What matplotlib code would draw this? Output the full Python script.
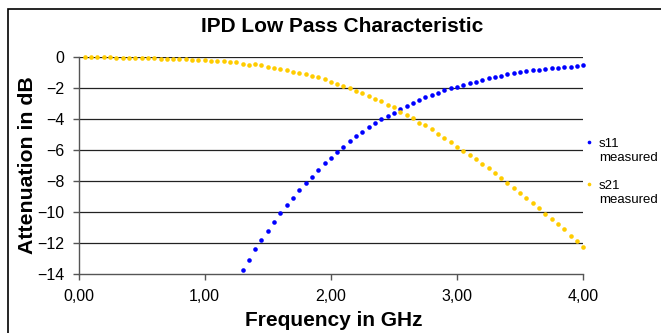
import numpy as np
import matplotlib
matplotlib.use("Agg")
import matplotlib.pyplot as plt
from matplotlib.patches import Rectangle
from matplotlib.ticker import FuncFormatter

plt.rcParams["font.family"] = ["Liberation Sans", "DejaVu Sans"]

# measurement grid in GHz
freq = np.round(np.arange(1, 81) * 0.05, 2)

# s21 over the whole grid (0.05 .. 4.00 GHz)
s21 = [-0.02, -0.02, -0.02, -0.02, -0.02, -0.08, -0.08, -0.08, -0.08, -0.08,
       -0.08, -0.08, -0.15, -0.15, -0.15, -0.15, -0.15, -0.24, -0.24, -0.24,
       -0.30, -0.30, -0.30, -0.37, -0.37, -0.45, -0.52, -0.50, -0.56, -0.65,
       -0.71, -0.77, -0.86, -0.99, -1.05, -1.10, -1.25, -1.33, -1.46, -1.60,
       -1.74, -1.87, -2.00, -2.19, -2.32, -2.54, -2.75, -2.88, -3.08, -3.27,
       -3.55, -3.74, -3.96, -4.24, -4.43, -4.69, -4.95, -5.24, -5.50, -5.79,
       -6.06, -6.32, -6.60, -6.92, -7.20, -7.48, -7.81, -8.15, -8.43, -8.76,
       -9.10, -9.42, -9.77, -10.12, -10.45, -10.80, -11.12, -11.55, -11.87, -12.24]

# s11 only visible from 1.30 GHz on (below -14 dB is off the chart)
s11_freq = freq[25:]
s11 = [-13.75, -13.10, -12.40, -11.80, -11.20, -10.65, -10.10, -9.57, -9.10, -8.62,
       -8.15, -7.72, -7.28, -6.88, -6.50, -6.12, -5.79, -5.44, -5.12, -4.82,
       -4.55, -4.28, -4.02, -3.81, -3.60, -3.40, -3.17, -2.99, -2.80, -2.62,
       -2.47, -2.32, -2.17, -2.03, -1.92, -1.84, -1.72, -1.60, -1.50, -1.38,
       -1.29, -1.22, -1.14, -1.08, -1.01, -0.95, -0.88, -0.84, -0.79, -0.75,
       -0.71, -0.68, -0.65, -0.62, -0.54]

x_ticks = [0, 1, 2, 3, 4]
y_ticks = [0, -2, -4, -6, -8, -10, -12, -14]

fig = plt.figure(figsize=(6.61, 3.33), dpi=100)
ax = fig.add_axes([0.1188, 0.1772, 0.7635, 0.6525])

# rahmen um das ganze diagramm
fig.patches.append(Rectangle((7.5 / 661, -0.1), 1.2, 1 - 9 / 333 + 0.1,
                             transform=fig.transFigure, fill=False,
                             edgecolor="black", lw=1.2, zorder=0))

for y in y_ticks[:-1]:
    ax.axhline(y, color="#222222", lw=0.9, zorder=1)

ax.plot(s11_freq, s11, "o", color="#0000FF", ms=3.3, mec="none",
        label="s11\nmeasured", clip_on=False, zorder=3)
ax.plot(freq, s21, "o", color="#FFCC00", ms=3.3, mec="none",
        label="s21\nmeasured", clip_on=False, zorder=3)

ax.set_xlim(0, 4)
ax.set_ylim(-14, 0)
ax.set_xticks(x_ticks)
ax.set_yticks(y_ticks)
ax.xaxis.set_major_formatter(FuncFormatter(lambda v, p: ("%.2f" % v).replace(".", ",")))
ax.tick_params(direction="out", length=4, width=1, color="#555555",
               labelsize=11.5, pad=6)
ax.tick_params(axis="x", pad=7)

for s in ["top", "right"]:
    ax.spines[s].set_visible(False)
for s in ["left", "bottom"]:
    ax.spines[s].set_color("#555555")
    ax.spines[s].set_linewidth(1)

fig.text(342 / 661, 1 - 27 / 333, "IPD Low Pass Characteristic",
         ha="center", va="center", fontsize=15, fontweight="bold")
fig.text(28 / 661, 1 - 165 / 333, "Attenuation in dB", rotation=90,
         ha="center", va="center", fontsize=15.3, fontweight="bold")
fig.text(334 / 661, 1 - 320 / 333, "Frequency in GHz",
         ha="center", va="center", fontsize=15, fontweight="bold")

leg = ax.legend(loc="upper left", bbox_to_anchor=(1.005, 0.627), frameon=False,
                fontsize=9.5, handlelength=0.5, handletextpad=0.5, markerscale=0.8,
                labelspacing=1.25, borderaxespad=0, borderpad=0)
# punkt auf hoehe der ersten zeile schieben
for h in leg.legend_handles:
    h.set_ydata(np.asarray(h.get_ydata()) + 6)

fig.savefig("out.png", dpi=100)
